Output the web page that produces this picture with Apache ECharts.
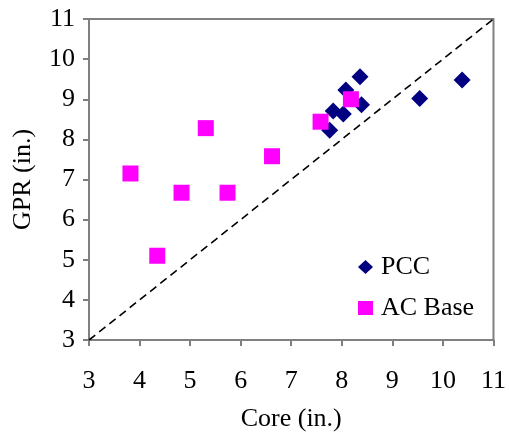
<!DOCTYPE html>
<html>
<head>
<meta charset="utf-8" />
<title>GPR vs Core</title>
<script src="https://cdn.jsdelivr.net/npm/echarts@6/dist/echarts.min.js"></script>
<style>
html, body { margin: 0; padding: 0; background: #fff; }
#main { width: 509px; height: 438px; }
</style>
</head>
<body>
<div id="main"></div>
<script>
// PCC points (core, gpr)
var pccCore = [8.36, 10.38, 9.54, 8.08, 8.39, 7.83, 8.03, 7.76];
var pccGpr  = [9.56, 9.48, 9.02, 9.23, 8.86, 8.71, 8.63, 8.23];
// AC Base points
var acCore = [3.82, 4.35, 4.83, 5.31, 5.74, 6.62, 7.58, 8.18];
var acGpr  = [7.15, 5.10, 6.67, 8.28, 6.67, 7.58, 8.44, 9.00];
// line of equality
var equality = [3, 11];

function pairs(xs, ys) {
  var out = [];
  for (var i = 0; i < xs.length; i++) out.push([xs[i], ys[i]]);
  return out;
}

var font = "Liberation Serif";
var axisGray = "#808080";
var fs = 26;

var chart = echarts.init(document.getElementById("main"));
chart.setOption({
  animation: false,
  textStyle: { fontFamily: font },
  grid: {
    left: 89, top: 19, right: 15, bottom: 98,
    show: true, borderColor: axisGray, borderWidth: 2
  },
  legend: {
    orient: "vertical",
    left: 353, top: 249,
    itemWidth: 15, itemHeight: 14,
    itemGap: 15,
    textStyle: { fontFamily: font, fontSize: fs, color: "#000", padding: [0, 0, 0, 3] },
    data: [
      { name: "PCC", icon: "diamond" },
      { name: "AC Base", icon: "rect" }
    ]
  },
  xAxis: {
    type: "value", min: 3, max: 11, interval: 1,
    name: "Core (in.)", nameLocation: "middle", nameGap: 66,
    nameTextStyle: { fontFamily: font, fontSize: fs, color: "#000" },
    axisLine: { lineStyle: { color: axisGray, width: 2 } },
    axisTick: { show: true, inside: false, length: 6, lineStyle: { color: axisGray, width: 2 } },
    axisLabel: { fontFamily: font, fontSize: fs, color: "#000", margin: 28 },
    splitLine: { show: false }
  },
  yAxis: {
    type: "value", min: 3, max: 11, interval: 1,
    name: "GPR (in.)", nameLocation: "middle", nameGap: 53,
    nameTextStyle: { fontFamily: font, fontSize: fs, color: "#000" },
    axisLine: { show: true, lineStyle: { color: axisGray, width: 2 } },
    axisTick: { show: true, inside: false, length: 6, lineStyle: { color: axisGray, width: 2 } },
    axisLabel: { fontFamily: font, fontSize: fs, color: "#000", margin: 14 },
    splitLine: { show: false }
  },
  series: [
    {
      name: "equality", type: "line",
      data: pairs(equality, equality),
      symbol: "none",
      lineStyle: { color: "#000", width: 1.6, type: [8, 5] },
      silent: true, z: 1
    },
    {
      name: "PCC", type: "scatter",
      data: pairs(pccCore, pccGpr),
      symbol: "diamond", symbolSize: 17,
      itemStyle: { color: "#000080", opacity: 1 },
      z: 2
    },
    {
      name: "AC Base", type: "scatter",
      data: pairs(acCore, acGpr),
      symbol: "rect", symbolSize: 16,
      itemStyle: { color: "#ff00ff", opacity: 1 },
      z: 3
    }
  ]
});
</script>
</body>
</html>
